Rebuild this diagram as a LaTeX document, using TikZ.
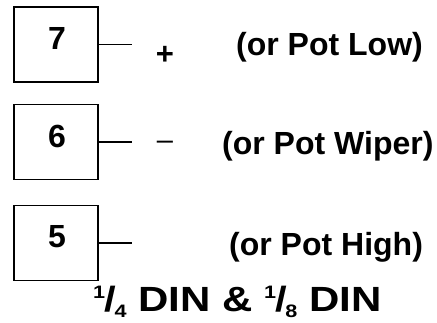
\documentclass[tikz,border=0pt]{standalone}
\usepackage{fontspec}
\setmainfont{Liberation Sans}
\newcommand\dinfrac[2]{\raisebox{13pt}{\fontsize{18}{18}\selectfont #1}\kern-0.5pt/\kern-1.5pt\raisebox{-6pt}{\fontsize{18}{18}\selectfont #2}}
\begin{document}
\begin{tikzpicture}[x=1pt,y=-1pt,
  pinbox/.style={draw, line width=1.6pt, minimum width=84pt, minimum height=75pt, inner sep=0pt},
  pinnum/.style={font=\fontsize{32}{32}\selectfont\bfseries, inner sep=0pt, anchor=base},
  lbl/.style={font=\fontsize{32}{32}\selectfont\bfseries, inner sep=0pt, anchor=base west},
  sign/.style={font=\fontsize{31}{31}\selectfont\bfseries, inner sep=0pt},
  wire/.style={line width=1.3pt}]
\useasboundingbox (0,0) rectangle (437,322);
% boxes
\node[pinbox] (b7) at (56,44.5) {};
\node[pinbox] (b6) at (56,142) {};
\node[pinbox] (b5) at (56,243) {};
% numbers
\node[pinnum] (n7) at (57,49) {7};
\node[pinnum] (n6) at (57,147) {6};
\node[pinnum] (n5) at (57,247) {5};
% wire ends
\coordinate (e7) at (132,44.5);
\coordinate (e6) at (132,142);
\coordinate (e5) at (132,243);
\draw[wire] (b7.east) -- (e7);
\draw[wire] (b6.east) -- (e6);
\draw[wire] (b5.east) -- (e5);
% signs
\node[sign] (plus) at (165,55.5) {+};
\node[inner sep=0pt, font=\fontsize{29}{29}\selectfont] (minus) at (165,145.5) {–};
% labels
\node[lbl] (l7) at (236,55) {(or Pot Low)};
\node[lbl] (l6) at (222,154) {(or Pot Wiper)};
\node[lbl] (l5) at (229,255) {(or Pot High)};
% bottom title
\node[anchor=base west, inner sep=0pt, xscale=1.2, transform shape, font=\fontsize{35}{35}\selectfont\bfseries] (din) at (93,311) {\dinfrac{1}{4} DIN \& \dinfrac{1}{8} DIN};
\end{tikzpicture}
\end{document}
